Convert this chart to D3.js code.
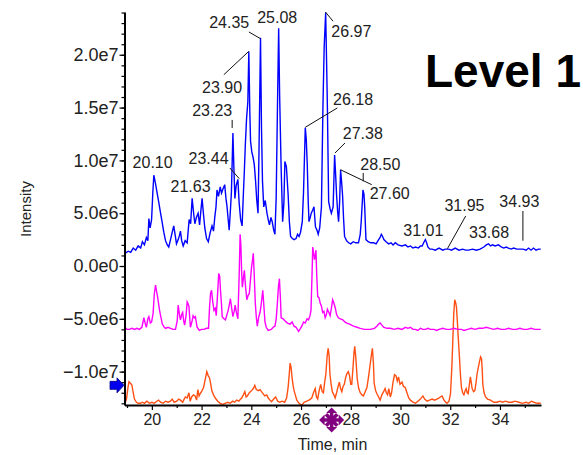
<!DOCTYPE html>
<html>
<head>
<meta charset="utf-8">
<script src="https://cdn.jsdelivr.net/npm/d3@7"></script>
<style>
  body { margin: 0; background: #fff; }
  text { font-family: "Liberation Sans", Arial, sans-serif; }
</style>
</head>
<body>
<div id="chart"></div>
<script>
// traces: [time (min), intensity (x1e6)]
const blueTrace = [
  [18.92,1.2],[19.05,1.4],[19.15,1.3],[19.25,1.7],[19.35,1.5],[19.45,1.9],[19.55,1.7],[19.62,2.3],[19.70,2.0],
  [19.78,2.7],[19.84,2.4],[19.88,4.5],[19.93,3.6],[19.99,4.4],[20.04,7.0],[20.08,8.6],[20.14,7.9],[20.22,6.8],
  [20.28,6.0],[20.35,5.0],[20.41,4.2],[20.48,3.2],[20.55,2.4],[20.62,2.0],[20.68,1.8],[20.76,2.6],[20.82,3.2],
  [20.88,3.8],[20.94,2.9],[20.99,2.1],[21.06,2.5],[21.11,2.9],[21.15,3.3],[21.20,2.4],[21.26,1.9],[21.34,2.4],
  [21.42,2.2],[21.50,4.4],[21.56,4.0],[21.62,6.4],[21.68,5.0],[21.73,4.0],[21.79,4.6],[21.86,5.0],[21.92,3.9],
  [21.97,5.2],[22.02,6.4],[22.08,4.8],[22.13,3.6],[22.20,2.6],[22.27,2.3],[22.34,3.1],[22.42,3.8],[22.48,3.3],
  [22.53,4.6],[22.58,5.6],[22.62,7.2],[22.68,6.6],[22.75,7.5],[22.80,6.9],[22.86,7.3],[22.93,7.7],[22.98,6.4],
  [23.02,5.7],[23.07,4.4],[23.11,3.4],[23.16,5.3],[23.20,7.0],[23.26,12.6],[23.30,9.2],[23.34,6.4],[23.39,7.6],
  [23.46,8.2],[23.51,6.0],[23.57,4.4],[23.63,3.8],[23.68,6.8],[23.72,9.0],[23.76,11.5],[23.81,14.0],[23.86,15.5],
  [23.90,20.3],[23.94,14.6],[23.97,11.8],[24.02,10.8],[24.07,10.3],[24.12,9.6],[24.17,8.1],[24.22,6.2],[24.27,5.0],
  [24.31,11.0],[24.37,21.6],[24.41,13.0],[24.45,8.0],[24.50,5.6],[24.56,6.2],[24.63,5.0],[24.68,4.4],[24.73,3.9],
  [24.79,4.6],[24.84,4.2],[24.90,3.4],[24.95,3.0],[25.00,6.5],[25.05,14.8],[25.10,22.5],[25.14,16.0],[25.20,9.2],
  [25.26,4.2],[25.31,6.0],[25.35,9.9],[25.41,9.4],[25.48,6.8],[25.53,4.2],[25.58,2.8],[25.65,2.6],[25.72,2.5],
  [25.80,2.6],[25.86,3.0],[25.92,2.8],[25.98,3.2],[26.05,4.2],[26.10,7.0],[26.17,13.1],[26.21,12.0],[26.25,9.6],
  [26.29,6.0],[26.32,4.2],[26.37,4.6],[26.41,5.0],[26.47,5.3],[26.52,5.6],[26.58,3.7],[26.64,3.4],[26.69,3.0],
  [26.75,3.6],[26.82,5.6],[26.88,15.0],[26.93,20.7],[26.99,24.0],[27.03,19.0],[27.06,15.0],[27.11,6.1],[27.17,5.4],
  [27.22,5.0],[27.29,5.6],[27.35,10.5],[27.39,8.7],[27.43,6.7],[27.47,5.2],[27.51,4.2],[27.55,6.0],[27.59,9.1],
  [27.63,8.0],[27.67,6.7],[27.71,4.5],[27.75,2.8],[27.83,2.4],[27.91,2.2],[28.00,2.1],[28.10,2.3],[28.20,2.2],
  [28.31,2.2],[28.38,3.0],[28.42,4.2],[28.49,7.2],[28.53,6.8],[28.56,5.6],[28.61,2.5],[28.70,2.3],[28.80,2.2],
  [28.92,2.2],[29.02,2.1],[29.12,2.5],[29.18,2.7],[29.23,3.0],[29.28,2.8],[29.33,2.5],[29.42,2.3],[29.52,2.1],
  [29.62,2.2],[29.70,2.0],[29.79,2.2],[29.90,2.0],[30.06,1.9],[30.20,2.0],[30.30,1.8],[30.40,1.9],[30.50,1.7],
  [30.60,1.8],[30.72,1.7],[30.80,1.9],[30.87,1.9],[30.95,2.3],[31.00,2.5],[31.05,2.2],[31.10,1.8],[31.18,1.6],
  [31.27,1.6],[31.40,1.5],[31.55,1.7],[31.70,1.5],[31.80,1.6],[31.94,1.6],[32.05,1.5],[32.20,1.7],[32.35,1.5],
  [32.50,1.6],[32.62,1.5],[32.74,1.5],[32.90,1.6],[33.05,1.5],[33.20,1.6],[33.35,1.8],[33.45,2.0],[33.54,2.1],
  [33.62,1.9],[33.70,2.0],[33.80,1.9],[33.94,2.0],[34.05,1.8],[34.15,1.7],[34.25,1.8],[34.34,1.7],[34.45,1.6],
  [34.55,1.7],[34.68,1.6],[34.80,1.6],[34.93,1.6],[35.05,1.5],[35.15,1.7],[35.25,1.5],[35.35,1.7],[35.45,1.5],
  [35.55,1.6],[35.64,1.6]
];

const magentaTrace = [
  [18.92,-5.8],[19.00,-6.0],[19.10,-6.0],[19.20,-5.9],[19.30,-6.0],[19.40,-5.9],[19.50,-6.0],[19.60,-5.8],[19.68,-4.9],
  [19.74,-5.5],[19.78,-5.8],[19.84,-5.0],[19.88,-4.8],[19.94,-5.4],[19.99,-5.3],[20.05,-4.5],[20.10,-2.6],[20.15,-1.8],
  [20.19,-2.4],[20.23,-2.9],[20.31,-4.2],[20.36,-4.8],[20.42,-5.5],[20.50,-5.8],[20.55,-5.9],[20.65,-5.8],[20.75,-5.9],
  [20.85,-6.0],[20.95,-6.0],[21.02,-5.2],[21.06,-3.7],[21.11,-4.6],[21.15,-5.1],[21.20,-4.6],[21.24,-4.4],[21.28,-5.2],
  [21.32,-5.6],[21.38,-4.6],[21.42,-3.4],[21.46,-3.6],[21.49,-3.8],[21.55,-5.8],[21.62,-5.2],[21.66,-4.7],[21.71,-4.9],
  [21.75,-4.8],[21.82,-5.8],[21.91,-6.1],[22.00,-6.0],[22.10,-6.0],[22.20,-5.9],[22.28,-5.9],[22.32,-3.9],[22.36,-2.6],
  [22.40,-2.3],[22.45,-3.4],[22.50,-4.2],[22.55,-4.0],[22.59,-4.7],[22.64,-2.8],[22.69,-0.7],[22.73,-1.0],[22.76,-2.3],
  [22.80,-3.6],[22.83,-4.8],[22.90,-5.0],[22.96,-5.1],[23.02,-4.6],[23.07,-4.2],[23.12,-3.6],[23.16,-3.1],[23.21,-4.0],
  [23.26,-4.8],[23.31,-4.3],[23.35,-3.7],[23.40,-4.4],[23.46,-5.0],[23.51,-1.0],[23.55,3.0],[23.58,2.0],[23.61,-0.5],
  [23.64,-2.0],[23.68,-1.2],[23.72,-0.4],[23.77,-2.0],[23.82,-3.2],[23.87,-2.8],[23.92,-2.6],[23.97,-1.2],[24.01,-0.1],
  [24.05,0.6],[24.08,1.2],[24.12,-1.0],[24.16,-3.5],[24.20,-4.8],[24.24,-5.7],[24.30,-4.8],[24.35,-4.4],[24.40,-3.6],
  [24.46,-2.3],[24.50,-3.6],[24.55,-5.3],[24.60,-5.8],[24.68,-6.1],[24.80,-6.0],[24.88,-5.8],[24.95,-5.7],[25.00,-5.0],
  [25.04,-3.8],[25.09,-2.0],[25.13,-1.2],[25.17,-3.0],[25.20,-4.9],[25.28,-5.0],[25.36,-5.2],[25.45,-5.4],[25.56,-5.5],
  [25.64,-5.3],[25.72,-5.7],[25.80,-5.8],[25.90,-6.2],[25.98,-5.9],[26.05,-5.6],[26.10,-5.3],[26.17,-5.4],[26.24,-5.0],
  [26.30,-5.1],[26.36,-4.7],[26.40,-4.2],[26.44,-1.0],[26.47,1.8],[26.51,1.2],[26.54,0.6],[26.57,0.9],[26.60,1.5],
  [26.63,-0.8],[26.67,-2.9],[26.72,-3.0],[26.77,-3.5],[26.82,-3.8],[26.87,-4.4],[26.92,-4.3],[26.97,-4.9],[27.02,-4.6],
  [27.06,-4.1],[27.12,-4.4],[27.17,-4.7],[27.22,-4.0],[27.27,-3.2],[27.32,-3.5],[27.37,-3.9],[27.43,-4.6],[27.50,-4.9],
  [27.58,-5.0],[27.68,-5.1],[27.76,-5.3],[27.84,-5.4],[27.95,-5.5],[28.11,-5.7],[28.25,-5.8],[28.38,-5.9],[28.55,-6.0],
  [28.78,-6.0],[28.95,-5.9],[29.05,-5.7],[29.12,-5.5],[29.18,-5.4],[29.25,-5.6],[29.32,-5.8],[29.45,-5.9],[29.59,-5.9],
  [29.75,-6.0],[29.90,-5.9],[30.05,-6.0],[30.20,-5.8],[30.30,-5.9],[30.40,-5.8],[30.50,-6.0],[30.60,-6.0],[30.70,-6.1],
  [30.80,-5.9],[30.90,-6.0],[31.00,-6.0],[31.10,-5.9],[31.20,-6.0],[31.35,-6.0],[31.45,-6.1],[31.55,-6.0],[31.70,-5.9],
  [31.85,-6.0],[32.00,-6.0],[32.15,-5.9],[32.30,-6.0],[32.45,-6.0],[32.55,-6.1],[32.70,-6.0],[32.85,-5.9],[33.00,-6.0],
  [33.15,-5.9],[33.30,-5.9],[33.45,-5.8],[33.60,-5.9],[33.75,-6.0],[33.90,-5.9],[34.05,-6.0],[34.20,-6.0],[34.35,-5.9],
  [34.50,-6.0],[34.65,-6.0],[34.80,-5.9],[34.95,-6.0],[35.10,-6.0],[35.25,-5.9],[35.40,-6.0],[35.55,-6.0],[35.64,-6.0]
];

const orangeTrace = [
  [18.92,-13.0],[18.98,-12.6],[19.04,-11.5],[19.08,-10.95],[19.14,-11.1],[19.20,-11.3],[19.25,-12.0],[19.30,-12.6],
  [19.38,-12.9],[19.45,-13.0],[19.55,-13.0],[19.62,-12.9],[19.70,-13.0],[19.80,-12.8],[19.90,-13.0],[20.00,-12.9],
  [20.10,-13.0],[20.20,-12.8],[20.27,-12.7],[20.35,-12.9],[20.45,-13.0],[20.55,-12.8],[20.65,-12.9],[20.75,-12.8],
  [20.82,-12.6],[20.90,-12.9],[21.00,-12.8],[21.08,-12.6],[21.15,-12.7],[21.24,-12.9],[21.30,-12.6],[21.35,-12.4],
  [21.42,-12.5],[21.49,-12.0],[21.54,-12.8],[21.60,-12.4],[21.67,-12.2],[21.74,-12.3],[21.80,-12.7],[21.85,-11.7],
  [21.90,-12.3],[21.94,-12.1],[22.02,-11.8],[22.08,-11.5],[22.14,-10.8],[22.21,-10.0],[22.27,-10.4],[22.32,-10.6],
  [22.37,-11.2],[22.41,-11.8],[22.48,-12.2],[22.55,-12.5],[22.65,-12.8],[22.75,-13.0],[22.85,-13.1],[22.95,-13.0],
  [23.05,-12.9],[23.15,-13.0],[23.25,-12.8],[23.33,-12.9],[23.41,-12.7],[23.50,-12.8],[23.57,-12.6],[23.61,-12.5],
  [23.68,-12.2],[23.74,-11.9],[23.79,-12.4],[23.84,-12.3],[23.92,-12.0],[24.01,-11.8],[24.08,-11.6],[24.14,-11.3],
  [24.20,-11.7],[24.28,-11.8],[24.35,-11.7],[24.41,-11.9],[24.48,-12.1],[24.54,-12.3],[24.62,-12.2],[24.68,-12.5],
  [24.75,-12.7],[24.81,-12.85],[24.90,-12.6],[24.98,-12.4],[25.06,-12.8],[25.14,-12.9],[25.24,-12.8],[25.34,-12.9],
  [25.42,-12.5],[25.48,-11.5],[25.52,-10.4],[25.56,-9.2],[25.60,-9.6],[25.64,-10.6],[25.68,-11.3],[25.72,-11.8],
  [25.78,-12.3],[25.83,-12.7],[25.92,-13.0],[26.03,-13.2],[26.12,-12.9],[26.23,-12.8],[26.32,-12.7],[26.43,-12.5],
  [26.50,-12.0],[26.57,-11.6],[26.62,-12.4],[26.67,-12.6],[26.72,-11.9],[26.79,-11.2],[26.85,-11.9],[26.90,-12.0],
  [26.95,-11.0],[27.00,-10.2],[27.05,-8.5],[27.09,-7.8],[27.13,-8.5],[27.16,-10.2],[27.21,-11.2],[27.26,-11.9],
  [27.32,-12.2],[27.37,-12.5],[27.43,-12.0],[27.49,-11.4],[27.54,-11.0],[27.59,-11.6],[27.64,-11.9],[27.69,-11.4],
  [27.74,-11.2],[27.79,-10.6],[27.84,-10.2],[27.90,-10.0],[27.95,-10.4],[28.00,-11.2],[28.04,-11.2],[28.09,-9.6],
  [28.13,-8.2],[28.16,-7.6],[28.20,-8.6],[28.26,-10.7],[28.32,-11.6],[28.38,-12.0],[28.45,-12.2],[28.51,-12.3],
  [28.58,-11.9],[28.65,-11.5],[28.72,-10.4],[28.78,-9.3],[28.83,-8.4],[28.87,-7.8],[28.91,-9.2],[28.94,-11.1],
  [29.00,-11.8],[29.05,-12.1],[29.12,-12.4],[29.18,-12.7],[29.25,-12.2],[29.32,-11.9],[29.38,-11.6],[29.43,-12.0],
  [29.48,-12.2],[29.53,-11.6],[29.59,-12.4],[29.64,-12.0],[29.70,-11.0],[29.76,-10.3],[29.82,-10.4],[29.87,-10.9],
  [29.92,-10.5],[29.98,-11.2],[30.06,-11.0],[30.12,-11.4],[30.19,-11.5],[30.26,-12.0],[30.33,-12.5],[30.40,-12.7],
  [30.50,-12.9],[30.60,-13.0],[30.70,-12.8],[30.80,-12.6],[30.90,-12.3],[30.97,-12.6],[31.07,-12.8],[31.17,-12.7],
  [31.27,-12.6],[31.37,-12.7],[31.46,-12.6],[31.54,-12.5],[31.60,-12.4],[31.67,-12.3],[31.75,-12.7],[31.82,-12.9],
  [31.87,-13.0],[31.95,-12.8],[32.01,-12.1],[32.06,-9.8],[32.10,-7.3],[32.14,-4.6],[32.18,-3.2],[32.22,-3.5],
  [32.25,-3.9],[32.29,-5.4],[32.32,-6.7],[32.37,-8.6],[32.41,-10.3],[32.45,-11.5],[32.50,-12.0],[32.55,-12.2],
  [32.60,-11.8],[32.64,-11.6],[32.68,-12.0],[32.72,-12.1],[32.76,-11.4],[32.81,-10.5],[32.85,-11.1],[32.88,-11.6],
  [32.94,-11.9],[32.99,-11.8],[33.04,-11.0],[33.08,-10.2],[33.13,-9.6],[33.18,-9.0],[33.22,-8.6],[33.26,-8.8],
  [33.29,-10.0],[33.31,-11.2],[33.36,-12.0],[33.42,-12.4],[33.50,-12.6],[33.62,-12.7],[33.75,-12.9],[33.89,-12.9],
  [34.00,-12.8],[34.10,-12.9],[34.22,-12.8],[34.35,-12.9],[34.49,-12.9],[34.60,-12.8],[34.76,-12.9],[34.90,-13.0],
  [35.05,-12.9],[35.16,-13.0],[35.26,-12.8],[35.36,-12.9],[35.50,-13.0],[35.64,-13.0]
];

const peakLabels = ['20.10','21.63','23.44','23.23','23.90','24.35','25.08','26.97',
                    '26.18','27.38','28.50','27.60','31.01','31.95','33.68','34.93'];

const yMajorTicks = [-1e7, -5e6, 0, 5e6, 1e7, 1.5e7, 2e7];
const xMajorTicks = [20, 22, 24, 26, 28, 30, 32, 34];
const markerTime = 27.23;     // purple marker under the x axis
const arrowLevel = -11.3e6;   // blue arrow on the y axis

// where each label sits relative to its peak: [dx, dy] and optional leader line
const labelLayout = {
  '20.10': { t: [-1.7, -6.7] },
  '21.63': { t: [-1.8, -6] },
  '23.44': { t: [-28.8, -15.4], l: [-7.5, -11.4, 1.9, -0.7] },
  '23.23': { t: [-20, -17.4], l: [0, -13, 0, -5] },
  '23.90': { t: [-26.7, 40.9], l: [-25, 23.1, 0, -0.3] },
  '24.35': { t: [-30.8, -9.9], l: [-11.1, -5.9, 0.5, 0.8] },
  '25.08': { t: [-1, -5.4] },
  '26.97': { t: [26.2, 24.9], l: [0.2, -0.6, 7.9, 8.7] },
  '26.18': { t: [47.5, -22.2], l: [-0.2, -0.4, 31.8, -19.7] },
  '27.38': { t: [27.4, -16.1], l: [-0.4, -2.1, 9.6, -12.1] },
  '28.50': { t: [17.1, -20], l: [0, -17, 0, -8.7] },
  '27.60': { t: [48.9, 29.1], l: [-0.4, -0.2, 30.9, 14.8] },
  '31.01': { t: [-2.3, -3.6] },
  '31.95': { t: [15.5, -38.1], l: [-1.6, -0.4, 16.7, -33.1] },
  '33.68': { t: [-3, -6.9] },
  '34.93': { t: [-3.7, -42.1], l: [-0.2, -38.1, -0.2, -8.4] }
};

let width = 583;
let height = 455;

let svg = d3.select('#chart')
  .append('svg')
  .attr('width', width)
  .attr('height', height);

let x = d3.scaleLinear().domain([18.9, 35.65]).range([124.5, 541]);
let y = d3.scaleLinear().domain([-13.16e6, 24.05e6]).range([405, 12]);

let line = d3.line()
  .x(d => x(d[0]))
  .y(d => y(d[1] * 1e6));

// traces
[[orangeTrace, '#ff5014'], [magentaTrace, '#ff00ff'], [blueTrace, '#0000ff']].forEach(s => {
  svg.append('path')
    .datum(s[0])
    .attr('d', line)
    .attr('fill', 'none')
    .attr('stroke', s[1])
    .attr('stroke-width', 1.4);
});

// y axis
let fmt = d => d3.format('.1e')(d).replace('+', '');
let yAxis = svg.append('g')
  .attr('transform', 'translate(124.5,0)')
  .call(d3.axisLeft(y).tickValues(yMajorTicks).tickFormat(fmt).tickSize(5).tickSizeOuter(0));
svg.append('g')
  .attr('transform', 'translate(124.5,0)')
  .call(d3.axisLeft(y).tickValues(d3.range(-13e6, 24.5e6, 1e6)).tickFormat('').tickSize(3).tickSizeOuter(0))
  .select('.domain').remove();

// x axis
let xAxis = svg.append('g')
  .attr('transform', 'translate(0,405)')
  .call(d3.axisBottom(x).tickValues(xMajorTicks).tickFormat(d3.format('d')).tickSize(5).tickSizeOuter(0));
svg.append('g')
  .attr('transform', 'translate(0,405)')
  .call(d3.axisBottom(x).tickValues(d3.range(19, 36, 2)).tickFormat('').tickSize(3).tickSizeOuter(0))
  .select('.domain').remove();

svg.selectAll('.domain').attr('stroke', '#000').attr('stroke-width', 2);
svg.selectAll('.tick line').attr('stroke', '#000').attr('stroke-width', 1.2);
yAxis.selectAll('text').attr('font-size', 18).attr('fill', '#222').attr('x', -6)
  .style('font-family', '"Liberation Sans", Arial, sans-serif');
xAxis.selectAll('text').attr('font-size', 16).attr('fill', '#222').attr('y', 9)
  .style('font-family', '"Liberation Sans", Arial, sans-serif');

// axis titles
svg.append('text')
  .attr('x', 332.5)
  .attr('y', 450)
  .attr('text-anchor', 'middle')
  .attr('font-size', 16)
  .attr('fill', '#222')
  .text('Time, min');

svg.append('text')
  .attr('transform', 'translate(31,209) rotate(-90)')
  .attr('text-anchor', 'middle')
  .attr('font-size', 15)
  .attr('fill', '#222')
  .text('Intensity');

// peak labels on the blue trace
peakLabels.forEach(lab => {
  let t = +lab;
  let near = blueTrace.filter(d => Math.abs(d[0] - t) <= 0.065);
  let px = x(t);
  let py = y(d3.max(near, d => d[1]) * 1e6);
  let lay = labelLayout[lab];
  if (lay.l) {
    svg.append('line')
      .attr('x1', px + lay.l[0]).attr('y1', py + lay.l[1])
      .attr('x2', px + lay.l[2]).attr('y2', py + lay.l[3])
      .attr('stroke', '#111')
      .attr('stroke-width', 1);
  }
  svg.append('text')
    .attr('x', px + lay.t[0])
    .attr('y', py + lay.t[1])
    .attr('text-anchor', 'middle')
    .attr('font-size', 16)
    .attr('fill', '#222')
    .text(lab);
});

// blue arrow on the y axis
let ay = y(arrowLevel);
svg.append('path')
  .attr('d', 'M110,' + (ay - 4) + 'L117,' + (ay - 4) + 'L117,' + (ay - 7.5) + 'L124,' + ay +
             'L117,' + (ay + 7.5) + 'L117,' + (ay + 4) + 'L110,' + (ay + 4) + 'Z')
  .attr('fill', '#0000ee')
  .attr('stroke', '#000080')
  .attr('stroke-width', 0.8);

// purple marker below x axis: four arrows plus a diagonal cross
let mx = x(markerTime), my = 420;
let g = svg.append('g').attr('transform', 'translate(' + mx + ',' + my + ')').attr('fill', '#800080');
[0, 90, 180, 270].forEach(a => {
  g.append('path')
    .attr('d', 'M-1.8,0 L-1.8,-7 L-5.5,-7 L0,-12.5 L5.5,-7 L1.8,-7 L1.8,0 Z')
    .attr('transform', 'rotate(' + a + ')');
});
[45, 135].forEach(a => {
  g.append('rect')
    .attr('x', -8).attr('y', -1.8).attr('width', 16).attr('height', 3.6)
    .attr('transform', 'rotate(' + a + ')');
});
g.append('circle').attr('r', 4);

// level title
svg.append('text')
  .attr('x', 425)
  .attr('y', 87)
  .attr('font-size', 46)
  .attr('font-weight', 'bold')
  .attr('fill', '#000')
  .text('Level 1');
</script>
</body>
</html>
